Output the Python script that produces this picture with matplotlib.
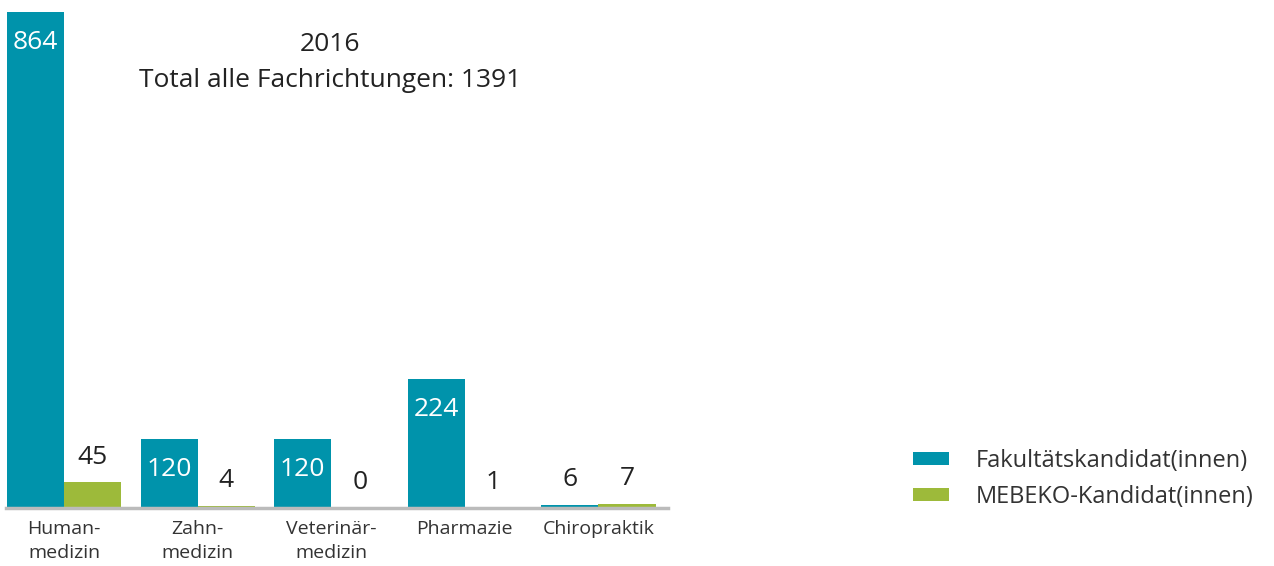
import matplotlib.pyplot as plt
import numpy as np

plt.rcParams['font.family'] = ['Open Sans', 'DejaVu Sans']

categories = ['Human-\nmedizin', 'Zahn-\nmedizin', 'Veterinär-\nmedizin', 'Pharmazie', 'Chiropraktik']
fakultaet = [864, 120, 120, 224, 6]
mebeko = [45, 4, 0, 1, 7]
series_names = ['Fakultätskandidat(innen)', 'MEBEKO-Kandidat(innen)']

teal = '#0093AB'
green = '#9DBA3A'
dark = '#222222'

fig = plt.figure(figsize=(12.74, 5.66), dpi=100)
ax = fig.add_axes([0.0047, 0.1025, 0.5196, 0.8763])

x = np.arange(len(categories))
w = 0.427
b1 = ax.bar(x - w / 2, fakultaet, w, color=teal, label=series_names[0])
b2 = ax.bar(x + w / 2, mebeko, w, color=green, label=series_names[1])

ax.set_xlim(-0.434, 4.52)
ax.set_ylim(0, 864)

# value labels: inside (white) for tall bars, above (dark) otherwise
for rect, v in zip(b1, fakultaet):
    cx = rect.get_x() + rect.get_width() / 2
    if v > 50:
        ax.annotate(str(v), (cx, v), xytext=(0, -22), textcoords='offset points',
                    ha='center', va='center', color='white', fontsize=19)
    else:
        ax.annotate(str(v), (cx, v), xytext=(0, 18), textcoords='offset points',
                    ha='center', va='center', color=dark, fontsize=19)
for rect, v in zip(b2, mebeko):
    cx = rect.get_x() + rect.get_width() / 2
    ax.annotate(str(v), (cx, v), xytext=(0, 18), textcoords='offset points',
                ha='center', va='center', color=dark, fontsize=19)

for s in ['top', 'right', 'left']:
    ax.spines[s].set_visible(False)
ax.spines['bottom'].set_color('#BBBBBB')
ax.spines['bottom'].set_linewidth(2.5)
ax.set_yticks([])
ax.set_xticks(x)
ax.set_xticklabels(categories, fontsize=14, color='#333333', linespacing=1.42)
ax.tick_params(axis='x', length=0, pad=9)

fig.text(0.259, 0.921, '2016', ha='center', va='center', fontsize=19, color=dark)
fig.text(0.259, 0.857, 'Total alle Fachrichtungen: 1391', ha='center', va='center',
         fontsize=19, color=dark)

fig.legend(handles=[b1, b2], loc='center left', bbox_to_anchor=(0.700, 0.154),
           frameon=False, fontsize=17, handlelength=1.52, handleheight=0.5,
           handletextpad=1.14, labelspacing=0.5, labelcolor='#333333')

fig.savefig('out.png', dpi=100)
